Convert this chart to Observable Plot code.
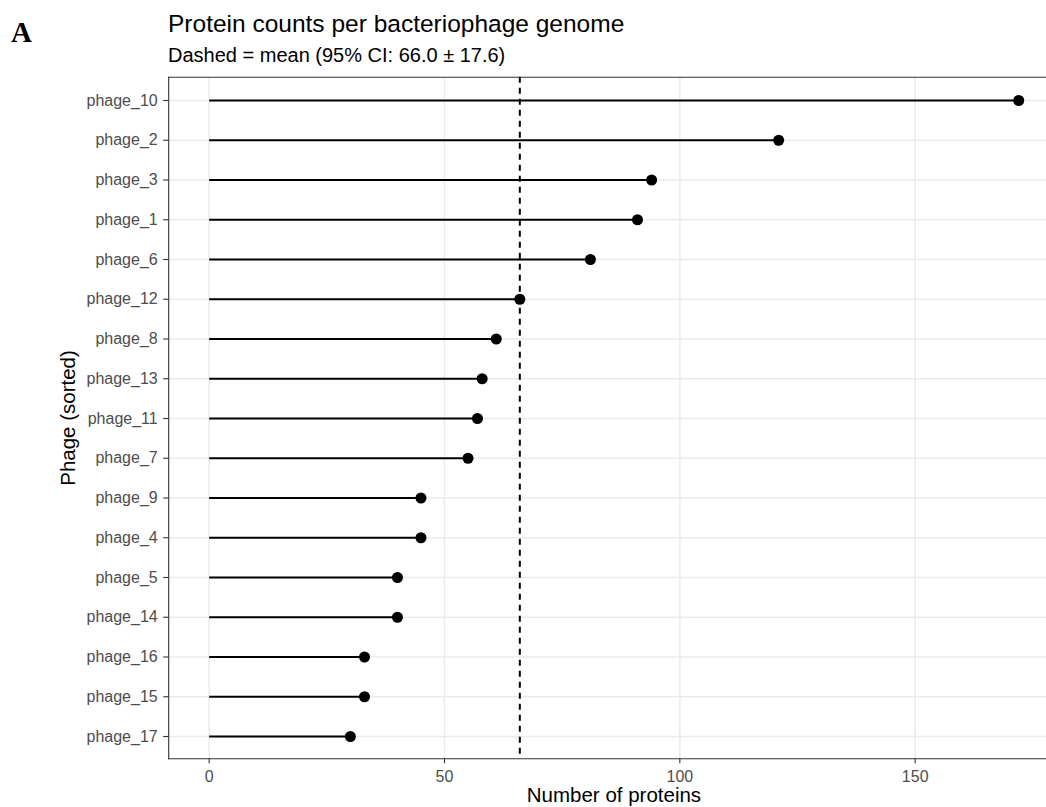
<!DOCTYPE html>
<html>
<head>
<meta charset="utf-8">
<script src="https://cdn.jsdelivr.net/npm/d3@7"></script>
<script src="https://cdn.jsdelivr.net/npm/@observablehq/plot@0.6"></script>
<style>
  html, body { margin: 0; padding: 0; background: #fff; overflow: hidden; }
  #wrap { width: 1046px; height: 807px; position: relative; overflow: hidden; font-family: "Liberation Sans", Arial, sans-serif; }
  #header { position: relative; height: 68px; }
  #header div { position: absolute; line-height: 1; white-space: nowrap; color: #000; }
  #panel { left: 11px; top: 18px; font-family: "Liberation Serif", "Times New Roman", serif; font-weight: bold; font-size: 29px; }
  #title { left: 168px; top: 12px; font-size: 24.5px; }
  #subtitle { left: 168px; top: 45px; font-size: 20px; }
  #chart svg { display: block; overflow: hidden; }
</style>
</head>
<body>
<div id="wrap">
  <div id="header">
    <div id="panel">A</div>
    <div id="title">Protein counts per bacteriophage genome</div>
    <div id="subtitle">Dashed = mean (95% CI: 66.0 ± 17.6)</div>
  </div>
  <div id="chart"></div>
</div>
<script>
const phages = ["phage_10","phage_2","phage_3","phage_1","phage_6","phage_12","phage_8","phage_13","phage_11","phage_7","phage_9","phage_4","phage_5","phage_14","phage_16","phage_15","phage_17"];
const proteinCounts = [172,121,94,91,81,66,61,58,57,55,45,45,40,40,33,33,30];
const xTicks = [0, 50, 100, 150];
const meanValue = 66.0;

const data = phages.map((p, i) => ({phage: p, n: proteinCounts[i]}));

const svgHeight = 807 - 68;
const chart = Plot.plot({
  width: 1046,
  height: svgHeight,
  marginLeft: 168.2,
  marginRight: -12.7,
  marginTop: 8.7,
  marginBottom: 48.7,
  style: {fontFamily: "Liberation Sans, Arial, sans-serif", background: "#fff"},
  x: {domain: [-8.6, 180.6], ticks: xTicks, label: null},
  y: {type: "point", domain: phages, padding: 0, round: false, insetTop: 23.3, insetBottom: 22.3, label: null},
  marks: [
    Plot.gridX(xTicks, {stroke: "#ebebeb", strokeOpacity: 1, strokeWidth: 1.5}),
    Plot.gridY(phages, {stroke: "#ebebeb", strokeOpacity: 1, strokeWidth: 1.5}),
    Plot.ruleX([meanValue], {stroke: "#000", strokeWidth: 2, strokeDasharray: "6,5"}),
    Plot.link(data, {x1: 0, x2: "n", y1: "phage", y2: "phage", stroke: "#000", strokeWidth: 2}),
    Plot.dot(data, {x: "n", y: "phage", r: 5.5, fill: "#000", stroke: "none"}),
    Plot.frame({anchor: "top", stroke: "#333", strokeWidth: 1.1}),
    Plot.frame({anchor: "left", stroke: "#333", strokeWidth: 1.1}),
    Plot.frame({anchor: "bottom", stroke: "#333", strokeWidth: 1.1}),
    Plot.axisX({ticks: xTicks, tickSize: 5, tickPadding: 6.5, fontSize: 16, color: "#4d4d4d", stroke: "#333", strokeWidth: 1.1, label: null}),
    Plot.axisY({tickSize: 5, tickPadding: 6, fontSize: 16, color: "#4d4d4d", stroke: "#333", strokeWidth: 1.1, label: null}),
    Plot.text(["Number of proteins"], {frameAnchor: "bottom", lineAnchor: "middle", textAnchor: "middle", dy: 36.4, fontSize: 20.5, fill: "#000"}),
    Plot.text(["Phage (sorted)"], {frameAnchor: "left", lineAnchor: "middle", textAnchor: "middle", dx: -100, rotate: -90, fontSize: 20.5, fill: "#000"})
  ]
});
document.getElementById("chart").appendChild(chart);
</script>
</body>
</html>
